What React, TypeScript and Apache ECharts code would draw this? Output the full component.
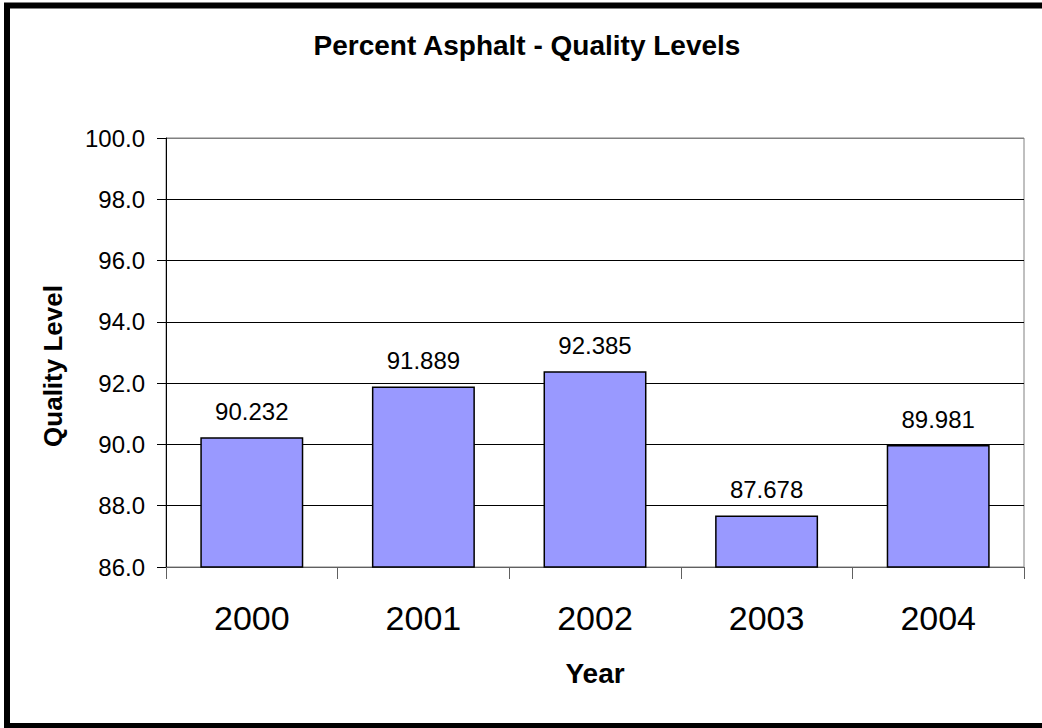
import React, { useEffect, useRef } from "react";
import * as echarts from "echarts";

const years = ["2000", "2001", "2002", "2003", "2004"];
const qualityLevels = [90.232, 91.889, 92.385, 87.678, 89.981];
const yMin = 86;
const yMax = 100;
const yInterval = 2;

const FONT = 'Arial, "Liberation Sans", sans-serif';

export default function App() {
  const ref = useRef<HTMLDivElement>(null);
  useEffect(() => {
    if (!ref.current) return;
    const chart = echarts.init(ref.current, null, { renderer: "svg" });
    chart.setOption({
      animation: false,
      backgroundColor: "#ffffff",
      grid: {
        left: 166,
        right: 18,
        top: 138,
        bottom: 161,
        show: true,
        borderColor: "#808080",
        borderWidth: 1,
        backgroundColor: "transparent",
      },
      graphic: [
        {
          type: "rect",
          shape: { x: 7, y: 5.5, width: 1045, height: 720.5 },
          style: { fill: "none", stroke: "#000", lineWidth: 6 },
          z: 100,
        },
        {
          type: "text",
          x: 527,
          y: 31,
          style: {
            text: "Percent Asphalt - Quality Levels",
            font: `bold 28px ${FONT}`,
            fill: "#000",
            textAlign: "center",
            textVerticalAlign: "top",
          },
        },
        {
          type: "text",
          x: 53,
          y: 366,
          rotation: Math.PI / 2,
          style: {
            text: "Quality Level",
            font: `bold 26px ${FONT}`,
            fill: "#000",
            textAlign: "center",
            textVerticalAlign: "middle",
          },
        },
      ],
      xAxis: {
        type: "category",
        data: years,
        name: "Year",
        nameLocation: "middle",
        nameGap: 92,
        nameTextStyle: {
          fontFamily: FONT,
          fontWeight: "bold",
          fontSize: 28,
          color: "#000",
        },
        axisLine: { lineStyle: { color: "#606060", width: 1 } },
        axisTick: { show: true, length: 12, lineStyle: { color: "#606060" } },
        axisLabel: {
          margin: 34,
          fontFamily: FONT,
          fontSize: 34,
          color: "#000",
        },
      },
      yAxis: {
        type: "value",
        min: yMin,
        max: yMax,
        interval: yInterval,
        axisLine: { show: true, lineStyle: { color: "#000", width: 1 } },
        axisTick: { show: true, length: 9, lineStyle: { color: "#000" } },
        axisLabel: {
          margin: 21,
          fontFamily: FONT,
          fontSize: 24,
          color: "#000",
          formatter: (v: number) => v.toFixed(1),
        },
        splitLine: {
          show: true,
          lineStyle: {
            color: ["#606060", "#000", "#000", "#000", "#000", "#000", "#000", "#808080"],
            width: 1,
          },
        },
      },
      series: [
        {
          type: "bar",
          data: qualityLevels,
          barWidth: "60%",
          itemStyle: { color: "#9999FF", borderColor: "#000", borderWidth: 1.5 },
          label: {
            show: true,
            position: "top",
            distance: 14,
            fontFamily: FONT,
            fontSize: 24,
            color: "#000",
            formatter: (p: any) => p.value.toFixed(3),
          },
        },
      ],
    });
    return () => chart.dispose();
  }, []);
  return (
    <div
      ref={ref}
      style={{ position: "fixed", left: 0, top: 0, width: 1042, height: 728, background: "#fff" }}
    />
  );
}
